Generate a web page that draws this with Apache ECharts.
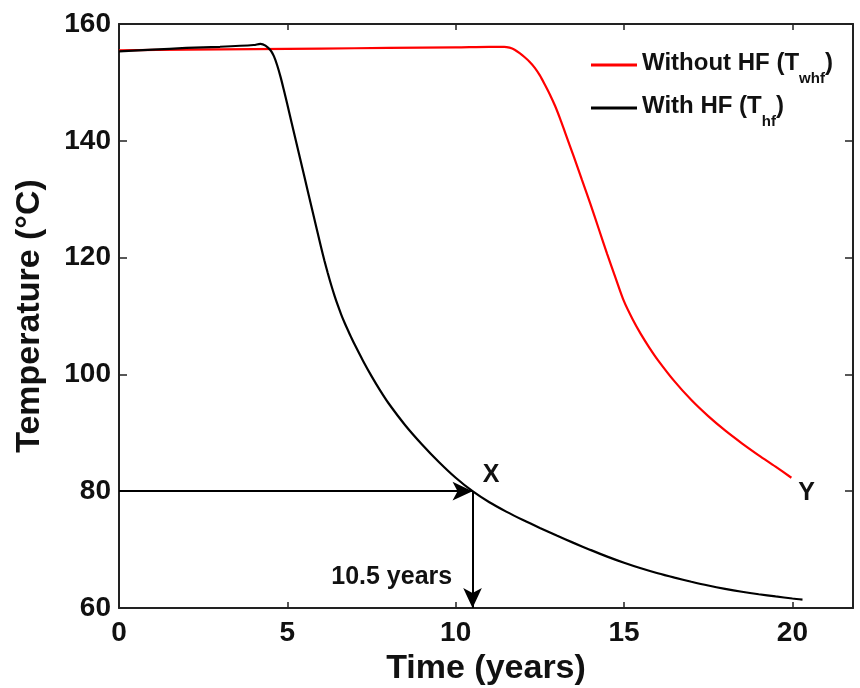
<!DOCTYPE html>
<html>
<head>
<meta charset="utf-8">
<script src="https://cdn.jsdelivr.net/npm/echarts@6/dist/echarts.min.js"></script>
<style>
html,body{margin:0;padding:0;background:#fff;}
#chart{width:860px;height:688px;}
</style>
</head>
<body>
<div id="chart"></div>
<script>
// ---- Data ----
var timeWithoutHF = [0, 2, 4, 6, 8, 10, 11.0, 11.44, 11.6, 11.75, 11.9, 12.05, 12.2, 12.35, 12.5, 12.65, 12.8, 12.95, 13.1, 13.25, 13.5, 13.75, 14.0, 14.25, 14.5, 14.75, 15.0, 15.25, 15.5, 15.75, 16.0, 16.5, 17.0, 17.5, 18.0, 18.5, 19.0, 19.5, 19.97];
var tempWithoutHF = [155.5, 155.6, 155.7, 155.8, 155.9, 156.0, 156.1, 156.1, 155.95, 155.6, 155.0, 154.3, 153.5, 152.5, 151.2, 149.6, 147.9, 146.0, 143.8, 141.4, 137.4, 133.3, 129.2, 124.9, 120.6, 116.5, 112.5, 109.5, 106.9, 104.6, 102.5, 98.8, 95.6, 92.85, 90.4, 88.2, 86.15, 84.2, 82.3];

var timeWithHF = [0, 1, 2, 3, 4, 4.2, 4.35, 4.5, 4.6, 4.7, 4.8, 4.9, 5.0, 5.25, 5.5, 5.75, 6.0, 6.1, 6.2, 6.3, 6.4, 6.5, 6.6, 6.7, 6.8, 6.9, 7.0, 7.25, 7.5, 7.75, 8.0, 8.5, 9.0, 9.5, 10.0, 10.5, 11.0, 11.5, 12.0, 12.5, 13.0, 13.5, 14.0, 14.5, 15.0, 15.5, 16.0, 16.5, 17.0, 17.5, 18.0, 18.5, 19.0, 19.5, 20.0, 20.3];
var tempWithHF = [155.3, 155.6, 155.9, 156.1, 156.4, 156.6, 156.3, 155.5, 154.5, 152.9, 150.9, 148.6, 146.2, 140.1, 134.0, 127.9, 121.8, 119.5, 117.35, 115.35, 113.5, 111.8, 110.25, 108.85, 107.55, 106.3, 105.1, 102.3, 99.7, 97.3, 95.1, 91.3, 88.0, 85.0, 82.3, 80.0, 78.1, 76.5, 75.05, 73.7, 72.4, 71.15, 69.95, 68.8, 67.75, 66.8, 65.95, 65.2, 64.5, 63.85, 63.28, 62.78, 62.35, 61.98, 61.63, 61.45];

var seriesNames = ['Without HF (Twhf)', 'With HF (Thf)'];
var xTicks = [0, 5, 10, 15, 20];
var yTicks = [60, 80, 100, 120, 140, 160];

// arrows: [from, to] in data units
var arrowHorizontal = [[0, 80], [10.5, 80]];
var arrowVertical = [[10.5, 80], [10.5, 60]];

// text annotations: [time, temperature, text]
var annotations = [[11.05, 82.8, 'X'], [20.42, 79.6, 'Y'], [8.1, 65.3, '10.5 years']];

function zip(a, b) { return a.map(function (v, i) { return [v, b[i]]; }); }

var FONT = '"Liberation Sans", Arial, sans-serif';
var AXIS_COLOR = '#222';

var chart = echarts.init(document.getElementById('chart'), null, {renderer: 'canvas'});

var baseX = {
  type: 'value', min: 0, max: 21.8, interval: 5,
  splitLine: {show: false},
  axisLine: {show: true, onZero: false, lineStyle: {color: AXIS_COLOR, width: 2}},
  axisTick: {show: true, inside: true, length: 6, lineStyle: {color: AXIS_COLOR, width: 1.5}}
};
var baseY = {
  type: 'value', min: 60, max: 160, interval: 20,
  splitLine: {show: false},
  axisLine: {show: true, onZero: false, lineStyle: {color: AXIS_COLOR, width: 2}},
  axisTick: {show: true, inside: true, length: 8, lineStyle: {color: AXIS_COLOR, width: 1.5}}
};

var option = {
  animation: false,
  backgroundColor: '#fff',
  grid: {left: 119, top: 24, right: 7, bottom: 80, containLabel: false, outerBoundsMode: 'none'},
  legend: {
    orient: 'vertical', left: 586, top: 46,
    icon: 'rect', itemWidth: 46, itemHeight: 3, itemGap: 8,
    selectedMode: false,
    data: seriesNames,
    formatter: function (name) {
      if (name === seriesNames[0]) return '{a|Without HF (T}{s|whf}{a|)}';
      return '{a|With HF (T}{s|hf}{a|)}';
    },
    textStyle: {
      rich: {
        a: {fontFamily: FONT, fontSize: 24, fontWeight: 'bold', color: '#111', lineHeight: 28, verticalAlign: 'top'},
        s: {fontFamily: FONT, fontSize: 15, fontWeight: 'bold', color: '#111', lineHeight: 15, padding: [20, 0, 0, 0], verticalAlign: 'top'}
      }
    }
  },
  xAxis: [
    Object.assign({}, baseX, {
      position: 'bottom',
      name: 'Time (years)', nameLocation: 'middle', nameGap: 40,
      nameTextStyle: {fontFamily: FONT, fontSize: 34, fontWeight: 'bold', color: '#111', verticalAlign: 'top'},
      axisLabel: {
        fontFamily: FONT, fontSize: 28, fontWeight: 'bold', color: '#111', margin: 11,
        formatter: function (v) { return xTicks.indexOf(v) >= 0 ? String(v) : ''; }
      }
    }),
    Object.assign({}, baseX, {position: 'top', axisLabel: {show: false}})
  ],
  yAxis: [
    Object.assign({}, baseY, {
      position: 'left',
      name: 'Temperature (°C)', nameLocation: 'middle', nameGap: 72, nameRotate: 90,
      nameTextStyle: {fontFamily: FONT, fontSize: 34, fontWeight: 'bold', color: '#111'},
      axisLabel: {
        fontFamily: FONT, fontSize: 28, fontWeight: 'bold', color: '#111', margin: 8,
        formatter: function (v) { return yTicks.indexOf(v) >= 0 ? String(v) : ''; }
      }
    }),
    Object.assign({}, baseY, {position: 'right', axisLabel: {show: false}})
  ],
  series: [
    {
      name: seriesNames[0], type: 'line', data: zip(timeWithoutHF, tempWithoutHF),
      showSymbol: false, smooth: 0.3, color: '#ff0000',
      lineStyle: {color: '#ff0000', width: 2.2}, z: 3
    },
    {
      name: seriesNames[1], type: 'line', data: zip(timeWithHF, tempWithHF),
      showSymbol: false, smooth: 0.3, color: '#000000',
      lineStyle: {color: '#000000', width: 2.2}, z: 4
    },
    {
      name: 'arrows', type: 'line', data: [], silent: true,
      markLine: {
        silent: true, animation: false,
        symbol: ['none', 'arrow'], symbolSize: [14, 20],
        label: {show: false},
        lineStyle: {color: '#000', width: 2, type: 'solid'},
        emphasis: {disabled: true},
        data: [
          [{coord: arrowHorizontal[0]}, {coord: arrowHorizontal[1]}],
          [{coord: arrowVertical[0]}, {coord: arrowVertical[1]}]
        ]
      }
    },
    {
      name: 'annotations', type: 'scatter', silent: true,
      symbolSize: 0, data: annotations,
      itemStyle: {opacity: 1},
      label: {
        show: true, position: 'inside', opacity: 1,
        formatter: function (p) { return p.value[2]; },
        fontFamily: FONT, fontWeight: 'bold', fontSize: 25, color: '#111'
      }
    }
  ]
};
chart.setOption(option);
</script>
</body>
</html>
